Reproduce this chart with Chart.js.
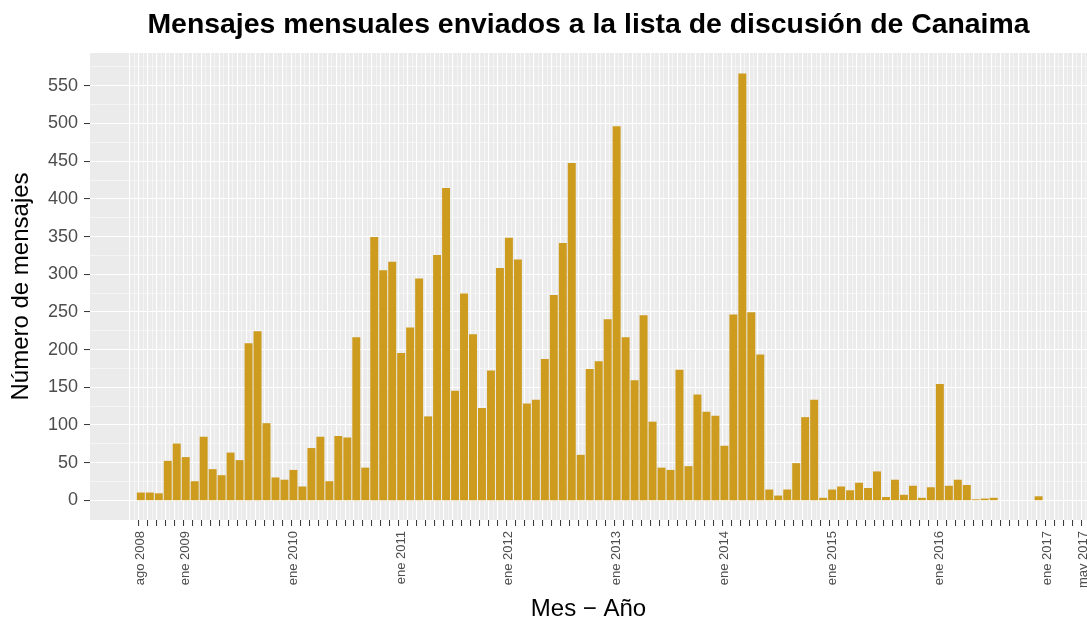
<!DOCTYPE html>
<html lang="es">
<head>
<meta charset="UTF-8">
<title>Mensajes mensuales Canaima</title>
<script src="https://cdn.jsdelivr.net/npm/chart.js@4.4.1/dist/chart.umd.min.js"></script>
<style>
  body { margin: 0; background: #fff; overflow: hidden; }
  #wrap { position: relative; width: 1087px; height: 621px; }
</style>
</head>
<body>
<div id="wrap"><canvas id="grafico"></canvas></div>
<script>
const nombresMes = ['ene', 'feb', 'mar', 'abr', 'may', 'jun', 'jul', 'ago', 'sep', 'oct', 'nov', 'dic'];

// un mes por barra, de ago 2008 a may 2017
const meses = [];
for (let a = 2008; a <= 2017; a++) {
  for (let m = 0; m < 12; m++) {
    if (a === 2008 && m < 7) continue;
    if (a === 2017 && m > 4) break;
    meses.push(nombresMes[m] + ' ' + a);
  }
}

const mensajes = [
  10, 10, 9, 52, 75,                                    // 2008 (ago-dic)
  57, 25, 84, 41, 33, 63, 53, 208, 224, 102, 30, 27,    // 2009
  40, 18, 69, 84, 25, 85, 83, 216, 43, 349, 305, 316,   // 2010
  195, 229, 294, 111, 325, 414, 145, 274, 220, 122, 172, 308, // 2011
  348, 319, 128, 133, 187, 272, 341, 447, 60, 174, 184, 240,  // 2012
  496, 216, 159, 245, 104, 43, 40, 173, 45, 140, 117, 112,    // 2013
  72, 246, 566, 249, 193, 14, 6, 14, 49, 110, 133, 3,         // 2014
  14, 18, 13, 23, 16, 38, 4, 27, 7, 19, 3, 17,                // 2015
  154, 19, 27, 20, 1, 2, 3, 0, 0, 0, 0, 5,                    // 2016
  0, 0, 0, 0, 0                                               // 2017 (ene-may)
];

const etiquetas = ['ago 2008', 'ene 2009', 'ene 2010', 'ene 2011', 'ene 2012', 'ene 2013',
  'ene 2014', 'ene 2015', 'ene 2016', 'ene 2017', 'may 2017'];

const yMarcas = [0, 50, 100, 150, 200, 250, 300, 350, 400, 450, 500, 550];

const fuente = "'Liberation Sans', Arial, Helvetica, sans-serif";
const esMayor = v => Number.isInteger(v);

// fondo gris del panel (estilo ggplot)
const fondoPanel = {
  id: 'fondoPanel',
  beforeDraw(chart) {
    const { ctx, chartArea: a } = chart;
    ctx.save();
    ctx.fillStyle = '#ebebeb';
    ctx.fillRect(a.left, a.top, a.right - a.left, a.bottom - a.top);
    ctx.restore();
  }
};

new Chart(document.getElementById('grafico'), {
  type: 'bar',
  data: {
    datasets: [{
      label: 'Mensajes',
      // los meses sin mensajes no llevan barra
      data: mensajes.map((v, i) => ({ x: i, y: v > 0 ? v : null })),
      backgroundColor: '#CD9B1D',
      borderWidth: 0,
      barThickness: 7.3
    }]
  },
  options: {
    responsive: true,
    maintainAspectRatio: false,
    animation: false,
    layout: { padding: 0 },
    plugins: {
      legend: { display: false },
      tooltip: { enabled: false },
      title: {
        display: true,
        fullSize: false,
        text: 'Mensajes mensuales enviados a la lista de discusión de Canaima',
        color: '#000',
        font: { family: fuente, size: 28.4, weight: 'bold' },
        padding: { top: 8, bottom: 10.9 }
      }
    },
    scales: {
      x: {
        type: 'linear',
        min: -5.4,
        max: 105.13,
        afterBuildTicks: s => {
          const t = [{ value: -1 }, { value: -0.5 }];
          meses.forEach((m, i) => {
            t.push({ value: i });
            if (i + 0.5 <= 105.13) t.push({ value: i + 0.5 });
          });
          s.ticks = t;
        },
        afterFit: s => { s.height = 101; s.paddingLeft = 0; s.paddingRight = 0; },
        ticks: {
          autoSkip: false,
          minRotation: 90,
          maxRotation: 90,
          padding: 5,
          color: '#4d4d4d',
          font: { family: fuente, size: 13 },
          callback: v => (esMayor(v) && v >= 0 && etiquetas.includes(meses[v])) ? meses[v] : ''
        },
        grid: {
          color: '#ffffff',
          lineWidth: c => (c.tick && esMayor(c.tick.value)) ? 1.1 : 0.5,
          tickColor: c => (c.tick && esMayor(c.tick.value) && c.tick.value >= 0) ? '#333333' : 'rgba(0,0,0,0)',
          tickLength: 6,
          tickWidth: 1
        },
        border: { display: false },
        title: {
          display: true,
          text: 'Mes − Año',
          color: '#000',
          font: { family: fuente, size: 24 },
          padding: { top: 0, bottom: -3 }
        }
      },
      y: {
        min: -26,
        max: 593.5,
        afterBuildTicks: s => {
          const t = [];
          yMarcas.forEach(v => { t.push({ value: v }); t.push({ value: v + 25 }); });
          s.ticks = t;
        },
        afterFit: s => { s.width = 90; s.paddingTop = 0; s.paddingBottom = 0; },
        ticks: {
          autoSkip: false,
          padding: 6,
          color: '#4d4d4d',
          font: { family: fuente, size: 18 },
          callback: v => yMarcas.includes(v) ? String(v) : ''
        },
        grid: {
          color: '#ffffff',
          lineWidth: c => (c.tick && yMarcas.includes(c.tick.value)) ? 1.1 : 0.5,
          tickColor: c => (c.tick && yMarcas.includes(c.tick.value)) ? '#333333' : 'rgba(0,0,0,0)',
          tickLength: 6,
          tickWidth: 1
        },
        border: { display: false },
        title: {
          display: true,
          text: 'Número de mensajes',
          color: '#000',
          font: { family: fuente, size: 24 },
          padding: { top: 7, bottom: 0 }
        }
      }
    }
  },
  plugins: [fondoPanel]
});
</script>
</body>
</html>
